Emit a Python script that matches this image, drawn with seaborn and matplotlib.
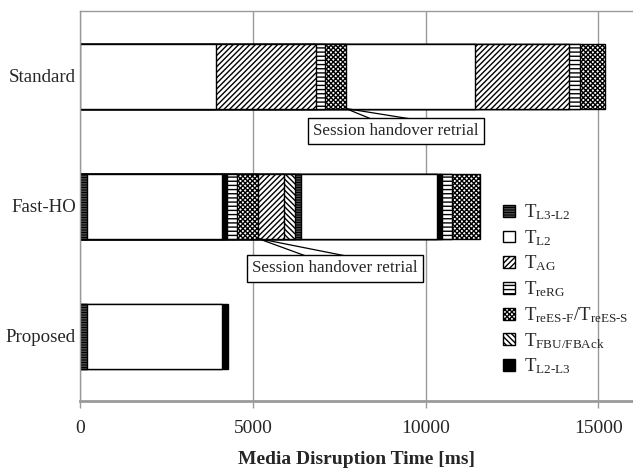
import numpy as np
import pandas as pd
import matplotlib
matplotlib.use("Agg")
import matplotlib.pyplot as plt
import matplotlib.patches as mpatches
import seaborn as sns

# rows of the chart, top to bottom
categories = ["Standard", "Fast-HO", "Proposed"]

# segment sequence (kind) and duration [ms] for every row
standard_kinds = ["L2", "AG", "reRG", "reES", "L2", "AG", "reRG", "reES"]
standard_ms = [3930, 2885, 266, 607, 3749, 2708, 309, 743]

fastho_kinds = ["L3-L2", "L2", "L2-L3", "reRG", "reES", "AG", "FBU",
                "L3-L2", "L2", "L2-L3", "reRG", "reES"]
fastho_ms = [210, 3890, 166, 289, 595, 752, 327, 173, 3925, 153, 290, 791]

proposed_kinds = ["L3-L2", "L2", "L2-L3"]
proposed_ms = [210, 3894, 165]

legend_kinds = ["L3-L2", "L2", "AG", "reRG", "reES", "FBU", "L2-L3"]
legend_labels = [
    r"T$_{\mathrm{L3\text{-}L2}}$",
    r"T$_{\mathrm{L2}}$",
    r"T$_{\mathrm{AG}}$",
    r"T$_{\mathrm{reRG}}$",
    r"T$_{\mathrm{reES\text{-}F}}$/T$_{\mathrm{reES\text{-}S}}$",
    r"T$_{\mathrm{FBU/FBAck}}$",
    r"T$_{\mathrm{L2\text{-}L3}}$",
]

xticks = [0, 5000, 10000, 15000]
callout_text = "Session handover retrial"

# fill style per segment kind
styles = {
    "L3-L2": dict(color="white", hatch="-" * 10),
    "L2": dict(color="white", hatch=""),
    "AG": dict(color="white", hatch="/" * 6),
    "reRG": dict(color="white", hatch="-" * 4),
    "reES": dict(color="white", hatch="x" * 7),
    "FBU": dict(color="white", hatch="\\" * 6),
    "L2-L3": dict(color="black", hatch=""),
}

sns.set_style("white")
plt.rcParams["font.family"] = ["Liberation Serif", "DejaVu Serif"]
plt.rcParams["mathtext.fontset"] = "custom"
plt.rcParams["mathtext.rm"] = "Liberation Serif"
plt.rcParams["mathtext.it"] = "Liberation Serif:italic"
plt.rcParams["mathtext.bf"] = "Liberation Serif:bold"
plt.rcParams["hatch.linewidth"] = 1.0

fig = plt.figure(figsize=(6.33, 4.68), dpi=100)
ax = fig.add_axes([80 / 633, 1 - 401 / 468, 1 - 80 / 633, 390 / 468])

rows = {
    "Standard": (standard_kinds, standard_ms),
    "Fast-HO": (fastho_kinds, fastho_ms),
    "Proposed": (proposed_kinds, proposed_ms),
}

ends = {}
for cat, (kinds, ms) in rows.items():
    cum = np.cumsum(ms)
    ends[cat] = dict(kinds=kinds, cum=cum)
    # draw longest first, shorter bars on top -> stacked look
    for kind, end in zip(kinds[::-1], cum[::-1]):
        st = styles[kind]
        sns.barplot(x=[end], y=[cat], order=categories, orient="h",
                    color=st["color"], saturation=1, hatch=st["hatch"],
                    edgecolor="black", linewidth=1, width=0.5, ax=ax)

# callouts pointing at the end of the first reES block
def callout(cat, box_xy, top_y, x_left, x_right):
    d = ends[cat]
    idx = d["kinds"].index("reES")
    px = d["cum"][idx]
    py = categories.index(cat) + 0.25
    ax.plot([x_left, px, x_right], [top_y, py, top_y], color="black",
            lw=0.9, zorder=5, solid_joinstyle="miter")
    ax.text(box_xy[0], box_xy[1], callout_text, ha="center", va="center",
            fontsize=12.3, zorder=6,
            bbox=dict(boxstyle="square,pad=0.3", fc="white", ec="black", lw=1))

callout("Standard", (9150, 0.425), 0.335, 8468, 9682)
callout("Fast-HO", (7370, 1.48), 1.39, 6590, 7803)

ax.set_xlim(0, 16000)
ax.set_ylim(2.5, -0.5)
ax.set_xticks(xticks)
ax.set_xticklabels([str(t) for t in xticks], fontsize=14)
ax.set_yticks(range(len(categories)))
ax.set_yticklabels(categories, fontsize=13.6)
ax.set_ylabel("")
ax.set_xlabel("Media Disruption Time [ms]", fontweight="bold", fontsize=14,
              labelpad=9.5)
ax.xaxis.grid(True, color="#9a9a9a", lw=1)
ax.yaxis.grid(False)
ax.set_axisbelow(True)
ax.tick_params(axis="x", direction="out", length=5, width=1, color="#9a9a9a",
               pad=9, bottom=True)
ax.tick_params(axis="y", length=0, pad=3)

for side in ["left", "top", "bottom"]:
    ax.spines[side].set_color("#9a9a9a")
ax.spines["left"].set_linewidth(1)
ax.spines["top"].set_linewidth(1)
ax.spines["bottom"].set_linewidth(2)
ax.spines["right"].set_visible(False)

handles = [mpatches.Patch(facecolor=styles[k]["color"], hatch=styles[k]["hatch"],
                          edgecolor="black", lw=1) for k in legend_kinds]
ax.legend(handles, legend_labels, loc="upper left",
          bbox_to_anchor=(494 / 633, 1 - 193 / 468), bbox_transform=fig.transFigure,
          frameon=False, borderpad=0, handlelength=0.6, handleheight=0.6,
          handletextpad=0.5, labelspacing=0.32, fontsize=13.5)

fig.savefig("out.png", dpi=100)
